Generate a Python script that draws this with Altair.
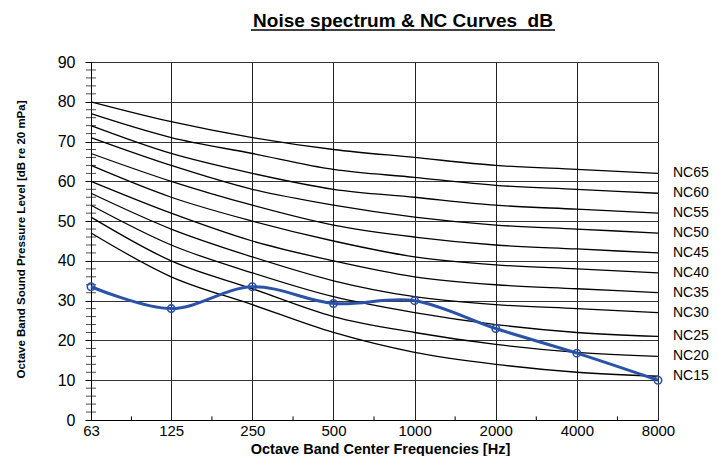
import altair as alt
import pandas as pd

TITLE = "Noise spectrum & NC Curves\u00a0 dB"
X_TITLE = "Octave Band Center Frequencies [Hz]"
Y_TITLE = "Octave Band Sound Pressure Level [dB re 20 mPa]"

freqs = [63, 125, 250, 500, 1000, 2000, 4000, 8000]

nc_names = ["NC15", "NC20", "NC25", "NC30", "NC35", "NC40", "NC45", "NC50", "NC55", "NC60", "NC65"]
nc15 = [47, 36, 29, 22, 17, 14, 12, 11]
nc20 = [51, 40, 33, 26, 22, 19, 17, 16]
nc25 = [54, 44, 37, 31, 27, 24, 22, 21]
nc30 = [57, 48, 41, 35, 31, 29, 28, 27]
nc35 = [60, 52, 45, 40, 36, 34, 33, 32]
nc40 = [64, 56, 50, 45, 41, 39, 38, 37]
nc45 = [67, 60, 54, 49, 46, 44, 43, 42]
nc50 = [71, 64, 58, 54, 51, 49, 48, 47]
nc55 = [74, 67, 62, 58, 56, 54, 53, 52]
nc60 = [77, 71, 67, 63, 61, 59, 58, 57]
nc65 = [80, 75, 71, 68, 66, 64, 63, 62]
nc_values = [nc15, nc20, nc25, nc30, nc35, nc40, nc45, nc50, nc55, nc60, nc65]

noise = [33.5, 28.0, 33.5, 29.3, 30.0, 23.0, 16.8, 10.0]

minor_x = [89, 177, 354, 707, 1414, 2828, 5657]
minor_y = [v for v in range(2, 90, 2) if v % 10 != 0]
y_ticks = list(range(0, 100, 10))

FONT = "Liberation Sans"
BLUE = "#2a52a8"

nc_rows = []
for name, vals in zip(nc_names, nc_values):
    for f, v in zip(freqs, vals):
        nc_rows.append({"curve": name, "freq": f, "level": v})
nc_df = pd.DataFrame(nc_rows)
label_df = pd.DataFrame({"curve": nc_names, "freq": [freqs[-1]] * len(nc_names),
                         "level": [vals[-1] for vals in nc_values]})
noise_df = pd.DataFrame({"freq": freqs, "level": noise})
minor_x_df = pd.DataFrame({"freq": minor_x})
minor_y_df = pd.DataFrame({"level": minor_y})
title_df = pd.DataFrame({"t": [TITLE]})

x_scale = alt.Scale(type="log", base=2, domain=[63, 8000], nice=False)
y_scale = alt.Scale(domain=[0, 90], nice=False, zero=True)

x_axis = alt.Axis(values=freqs, format="d", title=X_TITLE, grid=True,
                  gridColor="#222", gridWidth=1, tickSize=0, labelPadding=3,
                  labelOverlap=False, labelFlush=False,
                  labelFont=FONT, labelFontSize=15, labelColor="black",
                  titleFont=FONT, titleFontSize=14.5, titleFontWeight="bold",
                  titleColor="black", titleX=289, titleY=33.5,
                  titleBaseline="alphabetic", domainColor="black")
y_axis = alt.Axis(values=y_ticks, title=Y_TITLE, grid=True, gridColor="#333",
                  gridWidth=1, tickSize=6, tickColor="black", labelPadding=10,
                  labelOverlap=False, labelFlush=False,
                  labelFont=FONT, labelFontSize=16, labelColor="black",
                  titleFont="Liberation Sans Narrow, Liberation Sans",
                  titleFontSize=11.5, titleFontWeight="bold", titleColor="black",
                  titleX=-70, titleY=177, titleAngle=270, titleAlign="center",
                  titleBaseline="middle", domainColor="black")

X = alt.X("freq:Q", scale=x_scale, axis=x_axis)
Y = alt.Y("level:Q", scale=y_scale, axis=y_axis)

nc_lines = alt.Chart(nc_df).mark_line(color="black", strokeWidth=1.3,
                                      interpolate="monotone").encode(
    x=X, y=Y, detail="curve:N",
)

nc_labels = alt.Chart(label_df).mark_text(align="left", baseline="middle", dx=15,
                                          font=FONT, fontSize=14, color="black").encode(
    x=X, y=Y, text="curve:N"
)

minor_y_ticks = alt.Chart(minor_y_df).mark_tick(orient="horizontal", size=10,
                                                thickness=1, color="black").encode(
    x=alt.XDatum(63, scale=x_scale, axis=x_axis), y=Y
)

minor_x_ticks = alt.Chart(minor_x_df).mark_rule(color="black", strokeWidth=1).encode(
    x=X, y=alt.YDatum(0, scale=y_scale, axis=y_axis), y2=alt.datum(0.9)
)

noise_line = alt.Chart(noise_df).mark_line(color=BLUE, strokeWidth=3,
                                           interpolate="cardinal").encode(
    x=X, y=Y
)
noise_pts = alt.Chart(noise_df).mark_point(shape="circle", filled=False, size=55,
                                           strokeWidth=1.6, color=BLUE, opacity=1).encode(
    x=X, y=Y
)

title_text = alt.Chart(title_df).mark_text(align="center", baseline="alphabetic",
                                           font=FONT, fontSize=19, fontWeight="bold",
                                           color="black").encode(
    x=alt.value(312), y=alt.value(-35), text="t:N"
)
title_line = alt.Chart(title_df).mark_rule(color="black", strokeWidth=1.5).encode(
    x=alt.value(160), x2=alt.value(464), y=alt.value(-32)
)

chart = alt.layer(
    nc_lines, nc_labels, minor_y_ticks, minor_x_ticks, noise_line, noise_pts,
    title_text, title_line
).properties(
    width=567, height=358,
    autosize=alt.AutoSizeParams(type="none"),
    padding={"left": 83, "top": 54, "right": 52, "bottom": 36},
).configure_view(stroke="#222").configure(background="white")

chart.save("out.html", embed_options={"renderer": "svg", "actions": False})
